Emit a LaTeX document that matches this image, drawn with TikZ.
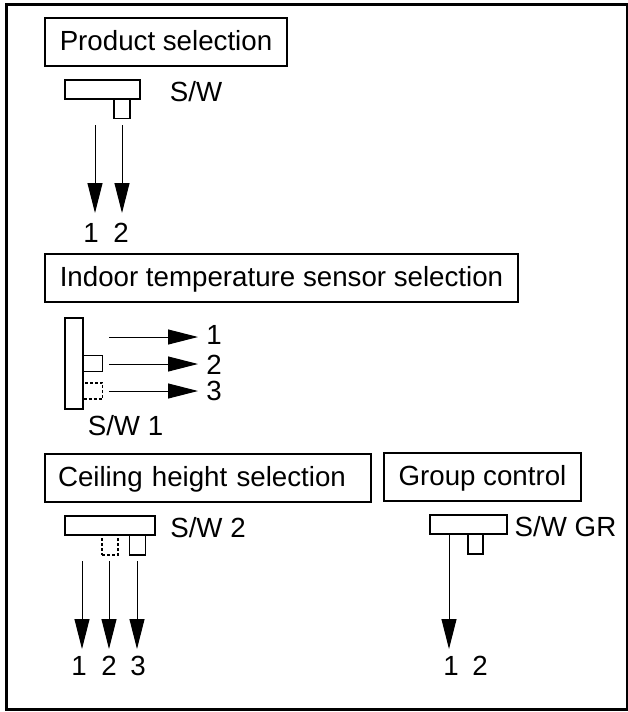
\documentclass[tikz,border=0pt]{standalone}
\usepackage{fontspec}
\setmainfont{Liberation Sans}
\usetikzlibrary{arrows.meta}
\begin{document}
\begin{tikzpicture}[x = 1pt, y = -1pt, >={Triangle[length = 30pt, width = 15pt]}]
    \tikzset{TitleStyle/.style = {shape        = rectangle,
                                  draw,
                                  line width   = 2.5pt,
                                  inner sep    = 0pt,
                                  text height  = 20pt,
                                  text depth   = 4pt,
                                  minimum height = 48pt,
                                  font         = \fontsize{27.7}{28}\selectfont}}
    \tikzset{LabelStyle/.style = {inner sep    = 0pt,
                                  text height  = 19.5pt,
                                  text depth   = 0pt,
                                  font         = \fontsize{27.7}{28}\selectfont}}
    \tikzset{PartStyle/.style = {shape         = rectangle,
                                 draw,
                                 line width    = 1.5pt,
                                 inner sep     = 0pt}}
    \tikzset{GhostStyle/.style = {PartStyle,
                                  densely dashed,
                                  line width   = 1.2pt}}
    \tikzset{LeadStyle/.style = {->,
                                 line width    = 1pt}}
    \useasboundingbox (0,0) rectangle (628,712);
    \node[draw, line width = 3pt, minimum width = 621pt, minimum height = 705pt,
          inner sep = 0pt] (frame) at (316.5,356.5) {};

    \node[TitleStyle, minimum width = 242pt] (product) at (166,42) {Product selection};
    \node[PartStyle, minimum width = 16pt, minimum height = 20pt] (prodtab) at (122,108.5) {};
    \node[PartStyle, fill = white, minimum width = 75pt, minimum height = 19pt] (prodsw) at (102.5,89.5) {};
    \node[LabelStyle] (prodname) at (196,91.5) {S/W};
    \node[LabelStyle] (prodone) at (91,232.5) {1};
    \node[LabelStyle] (prodtwo) at (121,232.5) {2};
    \coordinate (proda) at (95,125);
    \coordinate (prodb) at (122,125);
    \coordinate (prodc) at (95,213);
    \coordinate (prodd) at (122,213);
    \draw[LeadStyle] (proda) -- (prodc);
    \draw[LeadStyle] (prodb) -- (prodd);

    \node[TitleStyle, minimum width = 473pt] (indoor) at (281.5,278) {Indoor temperature sensor selection};
    \node[PartStyle, minimum width = 19pt, minimum height = 16pt] (intab) at (93,363.5) {};
    \node[GhostStyle, minimum width = 19pt, minimum height = 16pt] (inghost) at (93,391) {};
    \node[PartStyle, fill = white, minimum width = 18pt, minimum height = 91pt] (insw) at (74,363.5) {};
    \node[LabelStyle] (inname) at (125.5,426) {S/W 1};
    \node[LabelStyle] (inone) at (214,334.5) {1};
    \node[LabelStyle] (intwo) at (214,364.5) {2};
    \node[LabelStyle] (inthree) at (214,391) {3};
    \coordinate (ina) at (109,337);
    \coordinate (inb) at (109,364);
    \coordinate (inc) at (109,391);
    \coordinate (ind) at (198,337);
    \coordinate (ine) at (198,364);
    \coordinate (inf) at (198,391);
    \draw[LeadStyle] (ina) -- (ind);
    \draw[LeadStyle] (inb) -- (ine);
    \draw[LeadStyle] (inc) -- (inf);

    \node[TitleStyle, minimum width = 326pt, text width = 300pt, align = left] (ceiling) at (208,478) {Ceiling height selection};
    \node[GhostStyle, minimum width = 16pt, minimum height = 20pt] (ceilghost) at (110,545) {};
    \node[PartStyle, minimum width = 16pt, minimum height = 20pt] (ceiltab) at (137.5,545) {};
    \node[PartStyle, fill = white, minimum width = 90pt, minimum height = 19pt] (ceilsw) at (110,525.5) {};
    \node[LabelStyle] (ceilname) at (208,527.5) {S/W 2};
    \node[LabelStyle] (ceilone) at (79,666) {1};
    \node[LabelStyle] (ceiltwo) at (109,666) {2};
    \node[LabelStyle] (ceilthree) at (138,666) {3};
    \coordinate (ceila) at (82,561);
    \coordinate (ceilb) at (109,561);
    \coordinate (ceilc) at (137,561);
    \coordinate (ceild) at (82,649);
    \coordinate (ceile) at (109,649);
    \coordinate (ceilf) at (137,649);
    \draw[LeadStyle] (ceila) -- (ceild);
    \draw[LeadStyle] (ceilb) -- (ceile);
    \draw[LeadStyle] (ceilc) -- (ceilf);

    \node[TitleStyle, minimum width = 197pt] (group) at (482.5,477) {Group control};
    \node[PartStyle, minimum width = 15pt, minimum height = 20pt] (grouptab) at (475.5,544) {};
    \node[PartStyle, fill = white, minimum width = 77pt, minimum height = 19pt] (groupsw) at (468.5,524.5) {};
    \node[LabelStyle] (groupname) at (565.5,527) {S/W GR};
    \node[LabelStyle] (groupone) at (451,665.5) {1};
    \node[LabelStyle] (grouptwo) at (480,665.5) {2};
    \coordinate (groupa) at (449,534);
    \coordinate (groupb) at (449,649);
    \draw[LeadStyle] (groupa) -- (groupb);
\end{tikzpicture}
\end{document}
